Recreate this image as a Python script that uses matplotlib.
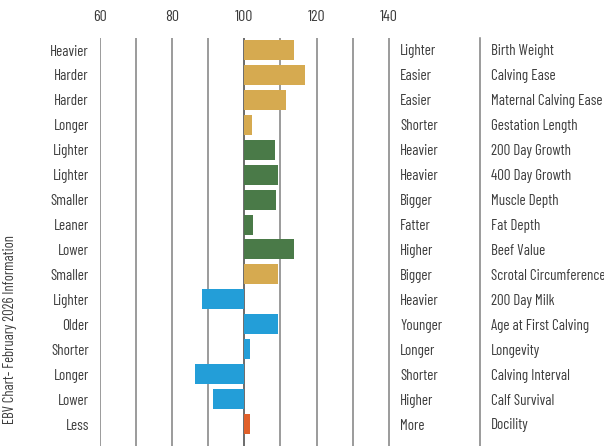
import matplotlib
matplotlib.use("Agg")
import matplotlib.pyplot as plt

traits = ["Birth Weight", "Calving Ease", "Maternal Calving Ease", "Gestation Length",
          "200 Day Growth", "400 Day Growth", "Muscle Depth", "Fat Depth", "Beef Value",
          "Scrotal Circumference", "200 Day Milk", "Age at First Calving", "Longevity",
          "Calving Interval", "Calf Survival", "Docility"]
low_labels = ["Heavier", "Harder", "Harder", "Longer", "Lighter", "Lighter", "Smaller",
              "Leaner", "Lower", "Smaller", "Lighter", "Older", "Shorter", "Longer",
              "Lower", "Less"]
high_labels = ["Lighter", "Easier", "Easier", "Shorter", "Heavier", "Heavier", "Bigger",
               "Fatter", "Higher", "Bigger", "Heavier", "Younger", "Longer", "Shorter",
               "Higher", "More"]
values = [113.8, 116.9, 111.4, 102.2, 108.4, 109.2, 108.9, 102.3, 113.8, 109.2,
          88.2, 109.2, 101.5, 86.3, 91.3, 101.5]
groups = ["calving", "calving", "calving", "calving", "growth", "growth", "growth",
          "growth", "growth", "calving", "maternal", "maternal", "maternal", "maternal",
          "maternal", "temperament"]
group_colors = {"calving": "#D6AA50", "growth": "#4A7A48", "maternal": "#239ED8",
                "temperament": "#E0602A"}
tick_values = [60, 80, 100, 120, 140]
grid_values = [60, 70, 80, 90, 100, 110, 120, 130, 140]
title = "EBV Chart- February 2026 Information"

FONT = ["Barlow Condensed", "Roboto Condensed", "Archivo Narrow", "DejaVu Sans"]
TXT = "#3c3c3c"

fig = plt.figure(figsize=(6.04, 4.46), dpi=100)
W, H = 604, 446
x0_px, x1_px = 99.5, 480
top_px = 38
ax = fig.add_axes([x0_px / W, 0, (x1_px - x0_px) / W, (H - top_px) / H])

px_per_unit = (389 - 99.5) / 80.0
xmax = 60 + (x1_px - x0_px) / px_per_unit
ax.set_xlim(60, xmax)
n = len(traits)
row_px = (424 - 50) / 15.0
ax.set_ylim(n - 1 + (H - 424) / row_px, -(50 - top_px) / row_px)

for g in grid_values:
    ax.axvline(g, color="#444444" if g == 100 else "#808080", lw=1.1, zorder=1)

ypos = list(range(n))
ax.barh(ypos, [v - 100 for v in values], left=100, height=0.8,
        color=[group_colors[g] for g in groups], zorder=3)

for s in ["top", "left", "bottom"]:
    ax.spines[s].set_visible(False)
ax.spines["right"].set_color("#808080")
ax.spines["right"].set_linewidth(1.1)

ax.xaxis.set_ticks_position("top")
ax.set_xticks(tick_values)
ax.set_xticklabels([str(t) for t in tick_values], family=FONT, fontsize=11.5, color=TXT)
ax.tick_params(axis="x", length=0, pad=10)
ax.set_yticks([])

left_x = 60 - 10.5 / px_per_unit
mid_x = 60 + (400 - 99.5) / px_per_unit
right_x = 60 + (491 - 99.5) / px_per_unit
dy = 1.5 / row_px
for i in range(n):
    ax.text(left_x, i + dy, low_labels[i], ha="right", va="center", family=FONT,
            fontsize=10.8, color=TXT, clip_on=False)
    ax.text(mid_x, i + dy, high_labels[i], ha="left", va="center", family=FONT,
            fontsize=10.8, color=TXT, clip_on=False)
    ax.text(right_x, i + dy, traits[i], ha="left", va="center", family=FONT,
            fontsize=10.8, color=TXT, clip_on=False)

fig.text(10.5 / W, 1 - 330 / H, title, rotation=90, ha="center", va="center",
         family=FONT, fontsize=10.5, color=TXT)

fig.savefig("out.png", dpi=100)
